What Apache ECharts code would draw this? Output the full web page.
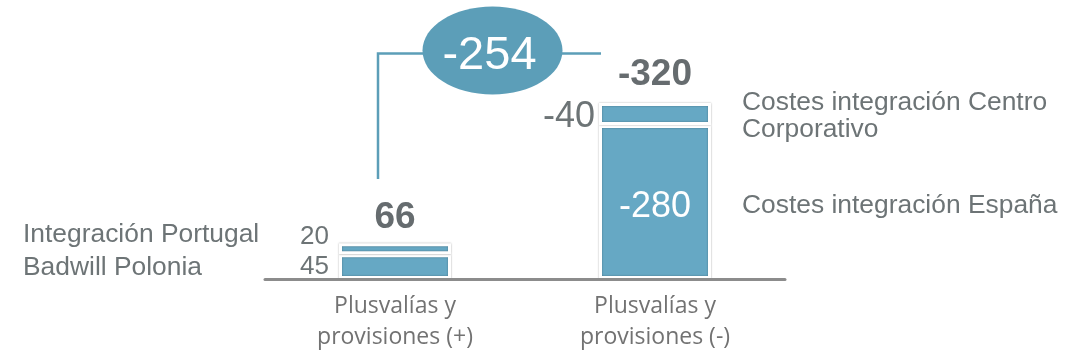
<!DOCTYPE html>
<html>
<head>
<meta charset="utf-8">
<script src="https://cdn.jsdelivr.net/npm/echarts@6/dist/echarts.min.js"></script>
<style>
  html, body { margin: 0; padding: 0; background: #ffffff; }
  #main { width: 1074px; height: 358px; }
</style>
</head>
<body>
<div id="main"></div>
<script>
// Categories on the x axis
const categories = ['Plusvalías y\nprovisiones (+)', 'Plusvalías y\nprovisiones (-)'];
// Lower and upper stacked components (signed, in millions)
const lowerValues = [45, -280];
const upperValues = [20, -40];
// Totals shown above each bar
const totals = [66, -320];
// Net result shown in the bubble
const netResult = -254;
// Component descriptions
const lowerNames = ['Badwill Polonia', 'Costes integración España'];
const upperNames = ['Integración Portugal', 'Costes integración Centro\nCorporativo'];

const BAR_COLOR = '#66a8c4';
const BUBBLE_COLOR = '#5c9eb8';
const TEXT_GRAY = '#6d7476';
const BOLD_GRAY = '#666c6f';
const SANS = '"Liberation Sans", Arial, sans-serif';

const chart = echarts.init(document.getElementById('main'), null, { renderer: 'canvas' });

const barStyle = {
  color: BAR_COLOR,
  borderColor: '#ffffff',
  borderWidth: 3,
  shadowBlur: 2,
  shadowColor: 'rgba(0,0,0,0.35)'
};

chart.setOption({
  animation: false,
  grid: { left: 265, right: 289, top: 4, bottom: 79 },
  xAxis: {
    type: 'category',
    data: categories,
    z: 5,
    axisLine: { lineStyle: { color: '#8c8c8c', width: 3 } },
    axisTick: { show: false },
    axisLabel: {
      fontFamily: '"Open Sans", sans-serif',
      fontSize: 23,
      lineHeight: 31,
      color: '#727272',
      margin: 12
    }
  },
  yAxis: { type: 'value', min: 0, max: 500, show: false },
  series: [
    {
      name: 'lower',
      type: 'bar',
      stack: 'total',
      barWidth: 112,
      itemStyle: barStyle,
      data: lowerValues.map((v, i) => ({
        value: Math.abs(v),
        label: i === 0
          ? { show: true, position: 'left', distance: 10, formatter: String(v),
              fontFamily: SANS, fontSize: 26, color: TEXT_GRAY, offset: [0, 0] }
          : { show: true, position: 'inside', formatter: String(v),
              fontFamily: SANS, fontSize: 36, color: '#ffffff', offset: [0, 5] }
      }))
    },
    {
      name: 'upper',
      type: 'bar',
      stack: 'total',
      barWidth: 112,
      itemStyle: barStyle,
      data: upperValues.map((v, i) => ({
        value: Math.abs(v),
        label: i === 0
          ? { show: true, position: 'left', distance: 10, formatter: String(v),
              fontFamily: SANS, fontSize: 26, color: TEXT_GRAY, offset: [0, -12] }
          : { show: true, position: 'left', distance: 4, formatter: String(v),
              fontFamily: SANS, fontSize: 36, color: TEXT_GRAY, offset: [0, 3] }
      }))
    },
    {
      // zero-height cap carrying the total label on top of each stack
      name: 'total',
      type: 'bar',
      stack: 'total',
      barWidth: 112,
      itemStyle: { color: 'rgba(0,0,0,0)', borderWidth: 0 },
      data: totals.map((v, i) => ({
        value: 0,
        label: { show: true, position: 'top', distance: i === 0 ? 7 : 10, formatter: String(v),
                 fontFamily: SANS, fontSize: 37, fontWeight: 'bold', color: BOLD_GRAY }
      }))
    }
  ]
});

// Annotations anchored to the axes
function px(cat, val) {
  return chart.convertToPixel({ xAxisIndex: 0, yAxisIndex: 0 }, [cat, val]);
}
const left = px(categories[0], 0);
const right = px(categories[1], 0);
const topY = px(categories[0], 410)[1];
const stemEndY = px(categories[0], 182)[1];
const stemX = left[0] - 17;
const armEndX = right[0] - 54;
const bubbleX = (stemX + armEndX) / 2 + 3;
const bubbleY = topY - 3;

const textX = right[0] + 87;
const upperMidR = px(categories[1], Math.abs(lowerValues[1]) + Math.abs(upperValues[1]) / 2)[1];
const lowerMidR = px(categories[1], Math.abs(lowerValues[1]) / 2)[1];
const upperMidL = px(categories[0], Math.abs(lowerValues[0]) + Math.abs(upperValues[0]) / 2)[1];
const lowerMidL = px(categories[0], Math.abs(lowerValues[0]) / 2)[1];

const textFont = '26.4px ' + SANS;

chart.setOption({
  graphic: [
    {
      type: 'polyline',
      shape: { points: [[stemX, stemEndY], [stemX, topY], [armEndX, topY]] },
      style: { stroke: BUBBLE_COLOR, lineWidth: 2.5, fill: null },
      z: 10
    },
    {
      type: 'ellipse',
      shape: { cx: bubbleX, cy: bubbleY, rx: 70, ry: 44 },
      style: { fill: BUBBLE_COLOR },
      z: 11
    },
    {
      type: 'text',
      x: bubbleX - 3, y: bubbleY + 6,
      style: { text: String(netResult), font: '47px ' + SANS, fill: '#ffffff',
               align: 'center', verticalAlign: 'middle' },
      z: 12
    },
    {
      type: 'text',
      x: textX, y: upperMidR - 25,
      style: { text: upperNames[1], font: textFont, fill: TEXT_GRAY, lineHeight: 27,
               align: 'left', verticalAlign: 'top' },
      z: 10
    },
    {
      type: 'text',
      x: textX, y: lowerMidR + 4,
      style: { text: lowerNames[1], font: textFont, fill: TEXT_GRAY,
               align: 'left', verticalAlign: 'middle' },
      z: 10
    },
    {
      type: 'text',
      x: 23, y: upperMidL - 14,
      style: { text: upperNames[0], font: textFont, fill: TEXT_GRAY,
               align: 'left', verticalAlign: 'middle' },
      z: 10
    },
    {
      type: 'text',
      x: 23, y: lowerMidL + 1,
      style: { text: lowerNames[0], font: textFont, fill: TEXT_GRAY,
               align: 'left', verticalAlign: 'middle' },
      z: 10
    }
  ]
});
</script>
</body>
</html>
